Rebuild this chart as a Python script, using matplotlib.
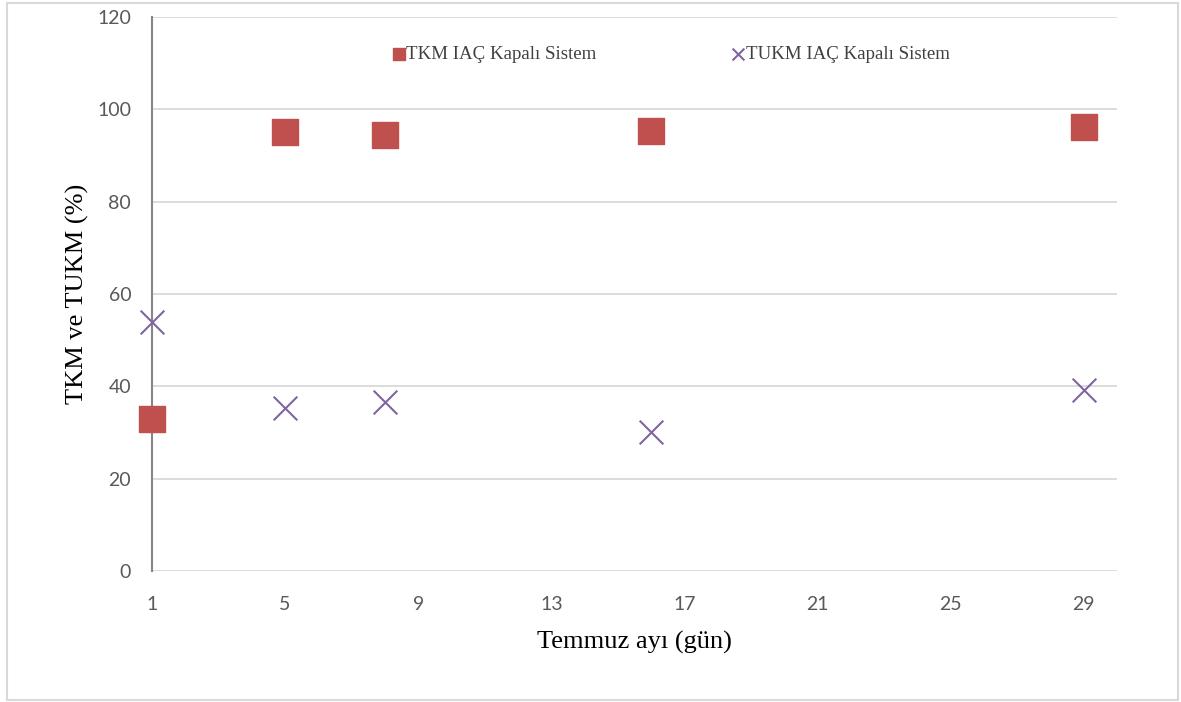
import matplotlib.pyplot as plt
from matplotlib.patches import Rectangle

# July days sampled and removal efficiencies (%)
gun = [1, 5, 8, 16, 29]
tkm = [33.0, 95.0, 94.4, 95.4, 96.2]
tukm = [54.0, 35.4, 36.5, 30.1, 39.1]

x_ticks = [1, 5, 9, 13, 17, 21, 25, 29]
y_ticks = [0, 20, 40, 60, 80, 100, 120]

fig = plt.figure(figsize=(11.81, 7.02), dpi=100)
ax = fig.add_axes([0.1287, 0.1866, 0.8171, 0.7892])

# outer chart frame
fig.patches.append(Rectangle((7 / 1181, 2 / 702), 1171 / 1181, 697 / 702,
                             transform=fig.transFigure, fill=False,
                             edgecolor='#d9d9d9', linewidth=1.5))

ax.scatter(gun, tkm, marker='s', s=340, color='#c0504d', zorder=3,
           clip_on=False, label='TKM IAÇ Kapalı Sistem')
ax.scatter(gun, tukm, marker='x', s=290, color='#8064a2', linewidths=1.5,
           zorder=3, clip_on=False, label='TUKM IAÇ Kapalı Sistem')

ax.set_xlim(1, 30)
ax.set_ylim(0, 120)
ax.set_xticks(x_ticks)
ax.set_yticks(y_ticks)
ax.grid(axis='y', color='#d9d9d9', linewidth=1.3)
ax.set_axisbelow(True)

for s in ['top', 'right', 'bottom']:
    ax.spines[s].set_visible(False)
ax.spines['left'].set_color('#868686')
ax.spines['left'].set_linewidth(1.5)
ax.spines['left'].set_zorder(2.5)

ax.tick_params(length=0, labelsize=14, labelcolor='#595959')
ax.tick_params(axis='x', pad=18)
ax.tick_params(axis='y', pad=15)
for lab in ax.get_xticklabels() + ax.get_yticklabels():
    lab.set_family('Lato')

ax.set_xlabel('Temmuz ayı (gün)', family='Liberation Serif', fontsize=19,
              labelpad=13)
ax.set_ylabel('TKM ve TUKM (%)', family='Liberation Serif', fontsize=19,
              labelpad=6)

leg = ax.legend(loc='upper center', bbox_to_anchor=(0.538, 0.978), ncol=2,
                frameon=False, markerscale=0.5, handlelength=0.6,
                handletextpad=0.1, columnspacing=7.2,
                prop={'family': 'Liberation Serif', 'size': 13.6})
for t in leg.get_texts():
    t.set_color('#404040')

fig.savefig('out.png', dpi=100)
